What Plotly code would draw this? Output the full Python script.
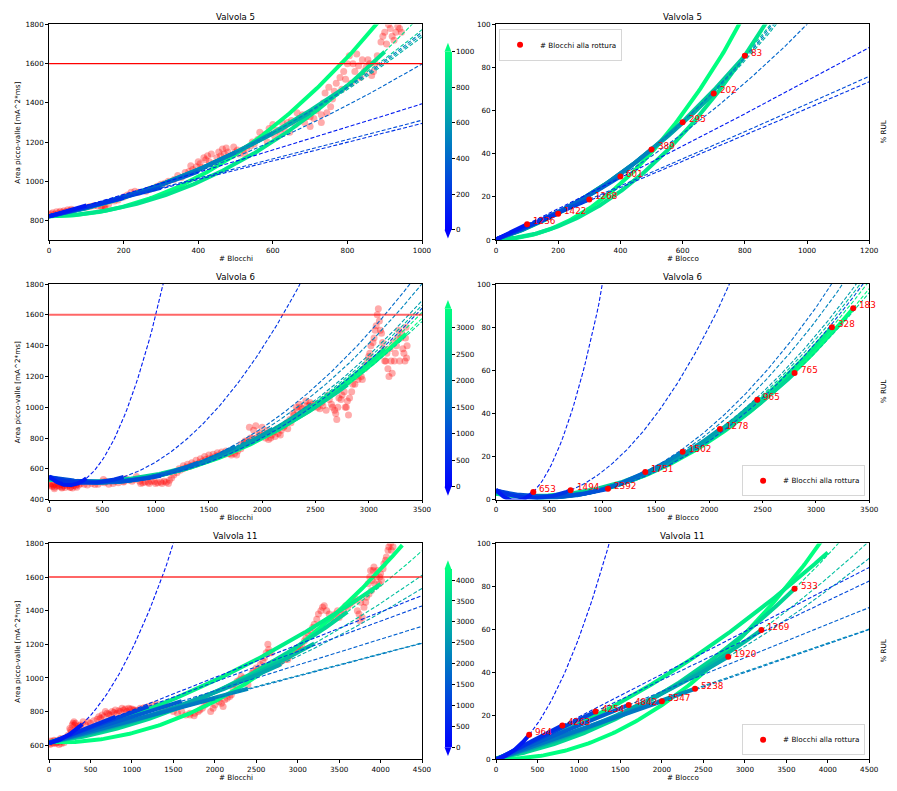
import numpy as np
import plotly.graph_objects as go

FONT = "DejaVu Sans"
W, H = 897, 791
SOGLIA = 1600  # soglia di rottura sull'area picco-valle

# ---------------- Valvola 5 ----------------
v5_blocchi = [0, 5, 10, 15, 20, 25, 30, 35, 40, 45,
              50, 55, 60, 65, 100, 110, 120, 130, 145, 150,
              160, 175, 185, 200, 210, 220, 230, 240, 260, 270,
              280, 290, 300, 310, 320, 335, 345, 355, 365, 375,
              385, 395, 405, 410, 420, 425, 430, 440, 450, 460,
              465, 470, 480, 490, 495, 500, 510, 520, 530, 540,
              550, 560, 570, 580, 590, 600, 610, 620, 630, 640,
              650, 660, 670, 680, 690, 700, 700, 710, 720, 730,
              730, 740, 750, 760, 770, 780, 790, 800, 805, 810,
              820, 830, 840, 850, 860, 870, 880, 890, 900, 910,
              920, 930, 940,
              140, 150, 380, 400, 415, 435, 455, 475, 505, 525,
              545, 565, 585, 605, 625, 645, 665, 685, 700, 715,
              735, 745, 755, 765, 785, 795, 815, 825, 835, 845,
              855, 865, 875, 895, 905, 915, 925, 935, 945]
v5_area = [830, 835, 840, 832, 845, 838, 848, 842, 850, 845,
           855, 850, 858, 852, 868, 872, 876, 874, 868, 872,
           885, 900, 905, 920, 930, 945, 950, 945, 950, 960,
           965, 975, 985, 990, 1000, 1010, 1030, 1020, 1045, 1050,
           1060, 1075, 1090, 1070, 1110, 1130, 1100, 1090, 1120, 1130,
           1165, 1140, 1150, 1130, 1175, 1150, 1140, 1160, 1170, 1180,
           1190, 1215, 1225, 1240, 1270, 1290, 1260, 1250, 1270, 1300,
           1310, 1290, 1320, 1340, 1330, 1350, 1280, 1320, 1370, 1340,
           1300, 1450, 1480, 1420, 1500, 1530, 1560, 1600, 1640, 1500,
           1560, 1590, 1620, 1580, 1600, 1560, 1640, 1710, 1760, 1800,
           1740, 1760, 1780,
           870, 860, 1080, 1100, 1120, 1140, 1150, 1170, 1160, 1140,
           1200, 1250, 1200, 1230, 1300, 1250, 1350, 1300, 1330, 1360,
           1400, 1350, 1380, 1460, 1470, 1520, 1600, 1650, 1530, 1560,
           1620, 1540, 1600, 1740, 1700, 1780, 1720, 1790, 1760]
# previsioni: blocco di fine fit, % RUL in quel blocco, blocchi residui alla rottura
v5_pred_blocco = [100, 200, 300, 400, 500, 600, 700, 800]
v5_pred_pct = [7.3, 12.2, 18.8, 29.4, 42.0, 54.6, 68.0, 85.5]
v5_pred_rottura = [1236, 1422, 1268, 601, 389, 295, 202, 83]
v5_pred_area0 = [822, 822, 822, 822, 822, 822, 822, 822]
# fit aggiuntivi: blocco di fine fit, area a fine fit, blocco in cui si supera la soglia
v5_fit_blocco = [900, 1000]
v5_fit_area = [1661, 2090]
v5_fit_soglia = [866, 784]
v5_fit_area0 = [822, 822]
v5_fit_tratteggio = [True, False]
v5_area_rif = 820

# ---------------- Valvola 6 ----------------
v6_blocchi = [0, 10, 20, 30, 40, 50, 60, 70, 80, 90,
              100, 110, 120, 130, 140, 150, 160, 170, 180, 190,
              200, 210, 220, 230, 240, 250, 260, 270, 280, 300,
              330, 360, 400, 430, 460, 490, 510, 530, 560, 600,
              650, 700, 720, 750, 800, 820, 850, 880, 900, 930,
              960, 990, 1020, 1050, 1080, 1100, 1130, 1150, 1170, 1200,
              1230, 1260, 1290, 1320, 1350, 1380, 1410, 1440, 1470, 1500,
              1530, 1560, 1590, 1620, 1650, 1680, 1710, 1740, 1770, 1800,
              1830, 1860, 1890, 1920, 1950, 1980, 2000, 2030, 2060, 2090,
              2120, 2150, 2180, 2210, 2240, 2270, 2300, 2330, 2360, 2390,
              2420, 2450, 2480, 2510, 2540, 2570, 2600, 2630, 2660, 2690,
              2700, 2720, 2750, 2780, 2800, 2810, 2840, 2870, 2900, 2930,
              2960, 2990, 3010, 3040, 3060, 3080, 3090, 3100, 3120, 3140,
              3160, 3180, 3200, 3220, 3240, 3260, 3280, 3300, 3320, 3340,
              3350, 3360,
              50, 120, 200, 260, 520, 620, 700, 780, 860, 940,
              1000, 1060, 1120, 1220, 1260, 1300, 1340, 1380, 1420, 1460,
              1500, 1540, 1580, 1620, 1660, 1700, 1760, 1800, 1840, 1880,
              1910, 1940, 1970, 2020, 2050, 2080, 2110, 2140, 2170, 2200,
              2230, 2260, 2290, 2320, 2350, 2380, 2410, 2440, 2470, 2520,
              2560, 2620, 2650, 2680, 2710, 2740, 2770, 2790, 2820, 2850,
              2880, 2910, 2940, 2970, 3000, 3020, 3050, 3070, 3110, 3130,
              3150, 3170, 3190, 3210, 3230, 3250, 3270, 3290, 3310, 3330,
              3345, 3355]
v6_area = [500, 490, 505, 485, 495, 480, 500, 488, 510, 492,
           485, 498, 480, 505, 490, 478, 500, 488, 510, 495,
           482, 500, 475, 492, 505, 488, 500, 512, 495, 505,
           500, 495, 505, 498, 500, 515, 530, 520, 500, 505,
           510, 520, 535, 525, 530, 550, 520, 510, 515, 512,
           520, 518, 510, 515, 520, 512, 525, 540, 560, 575,
           590, 600, 610, 615, 625, 630, 640, 650, 660, 665,
           670, 680, 690, 690, 695, 700, 690, 700, 715, 730,
           770, 780, 800, 850, 800, 830, 870, 800, 790, 820,
           810, 830, 850, 880, 860, 900, 950, 980, 1000, 970,
           1010, 1030, 1000, 1020, 990, 1010, 980, 1050, 1000, 960,
           920, 1060, 1080, 1000, 1040, 950, 1100, 1150, 1180, 1200,
           1250, 1300, 1350, 1420, 1500, 1600, 1640, 1560, 1480, 1380,
           1300, 1250, 1380, 1220, 1300, 1400, 1500, 1450, 1380, 1300,
           1520, 1400,
           470, 475, 478, 480, 510, 520, 515, 520, 505, 505,
           505, 505, 505, 600, 620, 630, 640, 655, 665, 680,
           690, 695, 705, 710, 715, 700, 690, 760, 780, 870,
           800, 880, 820, 830, 850, 800, 840, 860, 820, 870,
           900, 920, 960, 1000, 1020, 990, 1040, 1010, 1020, 1000,
           1030, 1080, 1020, 980, 1000, 1050, 1100, 1000, 1060, 1150,
           1200, 1220, 1180, 1270, 1330, 1400, 1450, 1530, 1500, 1420,
           1300, 1350, 1200, 1300, 1420, 1350, 1450, 1300, 1480, 1350,
           1450, 1320]
v6_pred_blocco = [350, 700, 1050, 1400, 1750, 2100, 2450, 2800, 3150, 3350]
v6_pred_pct = [3.5, 4.3, 5.0, 12.8, 22.2, 32.7, 46.3, 58.7, 80.0, 88.8]
v6_pred_rottura = [653, 1494, 2392, 1751, 1502, 1278, 965, 765, 328, 183]
v6_pred_area0 = [550, 548, 545, 543, 540, 538, 535, 532, 530, 530]
v6_fit_blocco = []
v6_fit_area = []
v6_fit_soglia = []
v6_fit_area0 = []
v6_fit_tratteggio = []
v6_area_rif = 500

# ---------------- Valvola 11 ----------------
v11_blocchi = [0, 20, 40, 60, 80, 100, 120, 140, 160, 180,
               200, 230, 260, 280, 300, 320, 350, 380, 410, 440,
               470, 500, 540, 580, 620, 660, 700, 740, 780, 820,
               860, 900, 940, 980, 1020, 1060, 1100, 1150, 1200, 1250,
               1300, 1350, 1400, 1450, 1500, 1550, 1600, 1650, 1700, 1750,
               1800, 1850, 1900, 1950, 2000, 2050, 2100, 2150, 2200, 2250,
               2300, 2350, 2400, 2450, 2500, 2550, 2600, 2650, 2680, 2700,
               2750, 2800, 2850, 2900, 2950, 3000, 3050, 3100, 3150, 3200,
               3250, 3300, 3350, 3400, 3450, 3500, 3550, 3600, 3650, 3700,
               3720, 3750, 3780, 3800, 3830, 3860, 3880, 3900, 3920, 3950,
               3980, 4000, 4030, 4060, 4090, 4120, 4150,
               10, 30, 50, 70, 90, 110, 130, 150, 170, 190,
               250, 270, 290, 310, 330, 360, 600, 640, 680, 720,
               760, 800, 840, 880, 920, 960, 1000, 1040, 1300, 1400,
               1700, 1760, 1820, 1880, 1920, 1980, 2040, 2080, 2120, 2180,
               2220, 2270, 2320, 2380, 2420, 2470, 2520, 2580, 2620, 2640,
               2660, 2720, 2780, 2830, 2880, 2930, 2980, 3030, 3080, 3130,
               3180, 3230, 3280, 3320, 3380, 3420, 3480, 3530, 3580, 3630,
               3680, 3740, 3760, 3820, 3850, 3870, 3890, 3910, 3930, 3960,
               3990, 4010, 4040, 4070, 4100, 4130]
v11_area = [610, 625, 615, 630, 612, 620, 605, 640, 625, 615,
            645, 660, 690, 720, 740, 730, 700, 720, 740, 720,
            740, 730, 745, 755, 760, 770, 790, 780, 795, 790,
            800, 810, 800, 815, 810, 805, 820, 825, 830, 840,
            830, 820, 835, 815, 800, 790, 800, 780, 790, 775,
            800, 820, 850, 800, 840, 860, 830, 880, 900, 960,
            990, 1000, 960, 1030, 1060, 1080, 1120, 1170, 1150, 1090,
            1080, 1100, 1110, 1130, 1160, 1180, 1190, 1240, 1280, 1320,
            1380, 1420, 1400, 1350, 1380, 1360, 1400, 1420, 1450, 1470,
            1400, 1340, 1360, 1420, 1480, 1500, 1640, 1580, 1660, 1600,
            1560, 1620, 1650, 1700, 1760, 1800, 1780,
            605, 620, 610, 625, 615, 630, 620, 610, 635, 640,
            700, 680, 730, 720, 700, 715, 770, 780, 800, 785,
            800, 810, 805, 820, 815, 820, 815, 810, 845, 840,
            780, 790, 810, 840, 870, 820, 880, 850, 870, 890,
            940, 980, 1010, 990, 1000, 1040, 1050, 1100, 1150, 1200,
            1150, 1080, 1090, 1120, 1110, 1150, 1170, 1180, 1220, 1260,
            1300, 1350, 1400, 1430, 1380, 1360, 1400, 1380, 1430, 1440,
            1460, 1380, 1450, 1450, 1560, 1600, 1520, 1640, 1560, 1640,
            1600, 1580, 1680, 1720, 1780, 1760]
v11_pred_blocco = [400, 800, 1200, 1600, 2000, 2400, 2800, 3200, 3600]
v11_pred_pct = [11.2, 15.6, 22.0, 25.1, 26.8, 32.6, 47.4, 59.9, 79.0]
v11_pred_rottura = [964, 4263, 4254, 4842, 5547, 5238, 1920, 1269, 533]
v11_pred_area0 = [612, 612, 613, 613, 614, 614, 615, 616, 617]
v11_fit_blocco = [4000, 4262]
v11_fit_area = [1559, 1790]
v11_fit_soglia = [4120, 3910]
v11_fit_area0 = [617, 617]
v11_fit_tratteggio = [False, False]
v11_area_rif = 615

valvole = [
    dict(nome="Valvola 5", blocchi=v5_blocchi, area=v5_area,
         pred=(v5_pred_blocco, v5_pred_pct, v5_pred_rottura, v5_pred_area0),
         extra=(v5_fit_blocco, v5_fit_area, v5_fit_soglia, v5_fit_area0, v5_fit_tratteggio),
         rif=v5_area_rif, vmax=1000, xmax_sx=1000, xmax_dx=1200, dtick_x=200,
         yrange=[701, 1800], cb_ticks=[0, 200, 400, 600, 800, 1000],
         hline=dict(color="red", width=1.3),
         legend=dict(x=504 / W, y=1 - 25.7 / H, xanchor="left", yanchor="top")),
    dict(nome="Valvola 6", blocchi=v6_blocchi, area=v6_area,
         pred=(v6_pred_blocco, v6_pred_pct, v6_pred_rottura, v6_pred_area0),
         extra=(v6_fit_blocco, v6_fit_area, v6_fit_soglia, v6_fit_area0, v6_fit_tratteggio),
         rif=v6_area_rif, vmax=3360, xmax_sx=3500, xmax_dx=3500, dtick_x=500,
         yrange=[400, 1800], cb_ticks=[0, 500, 1000, 1500, 2000, 2500, 3000],
         hline=dict(color="rgba(255,0,0,0.6)", width=2),
         legend=dict(x=875 / W, y=1 - 498 / H, xanchor="right", yanchor="bottom")),
    dict(nome="Valvola 11", blocchi=v11_blocchi, area=v11_area,
         pred=(v11_pred_blocco, v11_pred_pct, v11_pred_rottura, v11_pred_area0),
         extra=(v11_fit_blocco, v11_fit_area, v11_fit_soglia, v11_fit_area0, v11_fit_tratteggio),
         rif=v11_area_rif, vmax=4262, xmax_sx=4500, xmax_dx=4500, dtick_x=500,
         yrange=[518, 1800], cb_ticks=[0, 500, 1000, 1500, 2000, 2500, 3000, 3500, 4000],
         hline=dict(color="rgba(255,0,0,0.6)", width=2),
         legend=dict(x=875 / W, y=1 - 760 / H, xanchor="right", yanchor="bottom")),
]

# geometria dei pannelli (pixel)
ROWS_PX = [(20.7, 238.7), (283.3, 501.3), (545.7, 763.7)]
CBAR_PX = [(48.3, 228.3), (308.3, 488.3), (571.7, 751.7)]
LEFT_PX = (47.7, 425.7)
RIGHT_PX = (500.7, 879.0)
CB_X = (448.5, 455.5)
WINTER = [[0.0, "rgb(0,0,255)"], [1.0, "rgb(0,255,128)"]]


def winter(v):
    v = min(max(v, 0.0), 1.0)
    return f"rgb(0,{round(255 * v)},{round(255 * (1 - 0.5 * v))})"


def fx(p):
    return p / W


def fy(p):
    return 1 - p / H


AX = dict(showline=True, linecolor="black", linewidth=0.8, mirror=True,
          ticks="outside", ticklen=3, tickwidth=0.8, tickcolor="black",
          showgrid=False, zeroline=False, fixedrange=True,
          tickfont=dict(family=FONT, size=7.2, color="black"))
TXT = dict(family=FONT, size=7.2, color="black")

fig = go.Figure()
annotations, shapes, layout_axes = [], [], {}

for i, v in enumerate(valvole):
    top, bot = ROWS_PX[i]
    ydom = [fy(bot), fy(top)]
    nl, nr = 2 * i + 1, 2 * i + 2
    xl = "x" if nl == 1 else f"x{nl}"
    yl = "y" if nl == 1 else f"y{nl}"
    xr, yr = f"x{nr}", f"y{nr}"
    leg = "legend" if i == 0 else f"legend{i + 1}"

    layout_axes["xaxis" if nl == 1 else f"xaxis{nl}"] = dict(
        AX, domain=[fx(LEFT_PX[0]), fx(LEFT_PX[1])], range=[0, v["xmax_sx"]],
        tick0=0, dtick=v["dtick_x"], anchor=yl)
    layout_axes["yaxis" if nl == 1 else f"yaxis{nl}"] = dict(
        AX, domain=ydom, range=v["yrange"], tick0=0, dtick=200, anchor=xl)
    layout_axes[f"xaxis{nr}"] = dict(
        AX, domain=[fx(RIGHT_PX[0]), fx(RIGHT_PX[1])], range=[0, v["xmax_dx"]],
        tick0=0, dtick=v["dtick_x"], anchor=yr)
    layout_axes[f"yaxis{nr}"] = dict(
        AX, domain=ydom, range=[0, 100], tick0=0, dtick=20, anchor=xr)

    # misure
    fig.add_trace(go.Scatter(
        x=v["blocchi"], y=v["area"], mode="markers", xaxis=xl, yaxis=yl,
        marker=dict(color="rgba(255,0,0,0.33)", size=7, line=dict(width=0)),
        showlegend=False, hoverinfo="skip"))

    # curve di fit: (fine fit, area iniziale, area a fine fit, blocco soglia, tratteggio)
    rif = v["rif"]
    pb, pp, pr, p0 = v["pred"]
    fits = [(t, a0, rif + pct / 100 * (SOGLIA - rif), t + r, True)
            for t, pct, r, a0 in zip(pb, pp, pr, p0)]
    eb, ea, es, e0, et = v["extra"]
    fits += [(t, a0, a, s, d) for t, a, s, a0, d in zip(eb, ea, es, e0, et)]
    fits.sort(key=lambda f: -f[0])

    curve = []
    for t, a0, at, xs, dashed in fits:
        coef = np.polyfit([0, t, xs], [a0, at, SOGLIA], 2)
        curve.append((t, coef, dashed, winter(t / v["vmax"])))

    panels = ((xl, yl, v["xmax_sx"], lambda a: a),
              (xr, yr, v["xmax_dx"], lambda a: (a - rif) / (SOGLIA - rif) * 100))
    for xx, yy, xmax, conv in panels:
        # tratto continuo fino al blocco di fine fit
        for t, coef, dashed, col in curve:
            xs_sol = np.linspace(0, t, 150)
            fig.add_trace(go.Scatter(
                x=xs_sol, y=conv(np.polyval(coef, xs_sol)), mode="lines",
                xaxis=xx, yaxis=yy, line=dict(color=col, width=4),
                showlegend=False, hoverinfo="skip"))
        # estrapolazione tratteggiata
        for t, coef, dashed, col in curve:
            if not dashed:
                continue
            xs_tr = np.linspace(t, xmax, 150)
            fig.add_trace(go.Scatter(
                x=xs_tr, y=conv(np.polyval(coef, xs_tr)), mode="lines",
                xaxis=xx, yaxis=yy, line=dict(color=col, width=1.1, dash="4px,2px"),
                showlegend=False, hoverinfo="skip"))

    # soglia di rottura
    fig.add_trace(go.Scatter(
        x=[0, v["xmax_sx"]], y=[SOGLIA, SOGLIA], mode="lines", xaxis=xl, yaxis=yl,
        line=v["hline"], showlegend=False, hoverinfo="skip"))

    # punti di previsione
    fig.add_trace(go.Scatter(
        x=pb, y=pp, mode="markers", xaxis=xr, yaxis=yr, name="# Blocchi alla rottura",
        marker=dict(color="red", size=6), legend=leg, showlegend=True, hoverinfo="skip"))
    for t, pct, r in zip(pb, pp, pr):
        annotations.append(dict(x=t, y=pct, xref=xr, yref=yr, text=str(r), showarrow=False,
                                xanchor="left", yanchor="middle", xshift=4, yshift=3,
                                font=dict(family=FONT, size=8.8, color="red")))

    # barra colori
    cb_top, cb_bot = CBAR_PX[i]
    fig.add_trace(go.Scatter(
        x=[0], y=[-1e6], mode="markers", xaxis=xl, yaxis=yl, showlegend=False, hoverinfo="skip",
        marker=dict(size=1, color=[0], cmin=0, cmax=v["vmax"], colorscale=WINTER, showscale=True,
                    colorbar=dict(thickness=7, thicknessmode="pixels", len=(cb_bot - cb_top) / H,
                                  lenmode="fraction", x=fx(CB_X[0]), xanchor="left", xpad=0,
                                  y=fy((cb_top + cb_bot) / 2), yanchor="middle", ypad=0,
                                  outlinewidth=0, tickmode="array", tickvals=v["cb_ticks"],
                                  ticks="outside", ticklen=3, tickwidth=0.8, tickcolor="black",
                                  tickfont=TXT))))
    xc = (CB_X[0] + CB_X[1]) / 2
    shapes.append(dict(type="path", xref="paper", yref="paper",
                       path=f"M {fx(CB_X[0])},{fy(cb_top)} L {fx(CB_X[1])},{fy(cb_top)} L {fx(xc)},{fy(cb_top - 9)} Z",
                       fillcolor=winter(1.0), line=dict(width=0)))
    shapes.append(dict(type="path", xref="paper", yref="paper",
                       path=f"M {fx(CB_X[0])},{fy(cb_bot)} L {fx(CB_X[1])},{fy(cb_bot)} L {fx(xc)},{fy(cb_bot + 9)} Z",
                       fillcolor=winter(0.0), line=dict(width=0)))

    # titoli e etichette degli assi
    for (x0, x1), xt in ((LEFT_PX, "# Blocchi"), (RIGHT_PX, "# Blocco")):
        annotations.append(dict(x=fx((x0 + x1) / 2), y=fy(top - 7.5), xref="paper", yref="paper",
                                text=v["nome"], showarrow=False, xanchor="center", yanchor="middle",
                                font=dict(family=FONT, size=8.6, color="black")))
        annotations.append(dict(x=fx((x0 + x1) / 2), y=fy(bot + 18.5), xref="paper", yref="paper",
                                text=xt, showarrow=False, xanchor="center", yanchor="middle", font=TXT))
    annotations.append(dict(x=fx(15.7), y=fy((top + bot) / 2), xref="paper", yref="paper",
                            text="Area picco-valle [mA^2*ms]", textangle=-90, showarrow=False,
                            xanchor="center", yanchor="middle", font=TXT))
    annotations.append(dict(x=fx(893.3), y=fy((top + bot) / 2), xref="paper", yref="paper",
                            text="% RUL", textangle=-90, showarrow=False,
                            xanchor="center", yanchor="middle", font=TXT))

    layout_axes[leg] = dict(v["legend"], bgcolor="rgba(255,255,255,0.8)", bordercolor="#cccccc",
                            borderwidth=0.8, font=TXT, itemwidth=30, tracegroupgap=0)

fig.update_layout(
    width=W, height=H, margin=dict(l=0, r=0, t=0, b=0),
    paper_bgcolor="white", plot_bgcolor="white", showlegend=True,
    annotations=annotations, shapes=shapes, **layout_axes)

fig.write_html("out.html")
